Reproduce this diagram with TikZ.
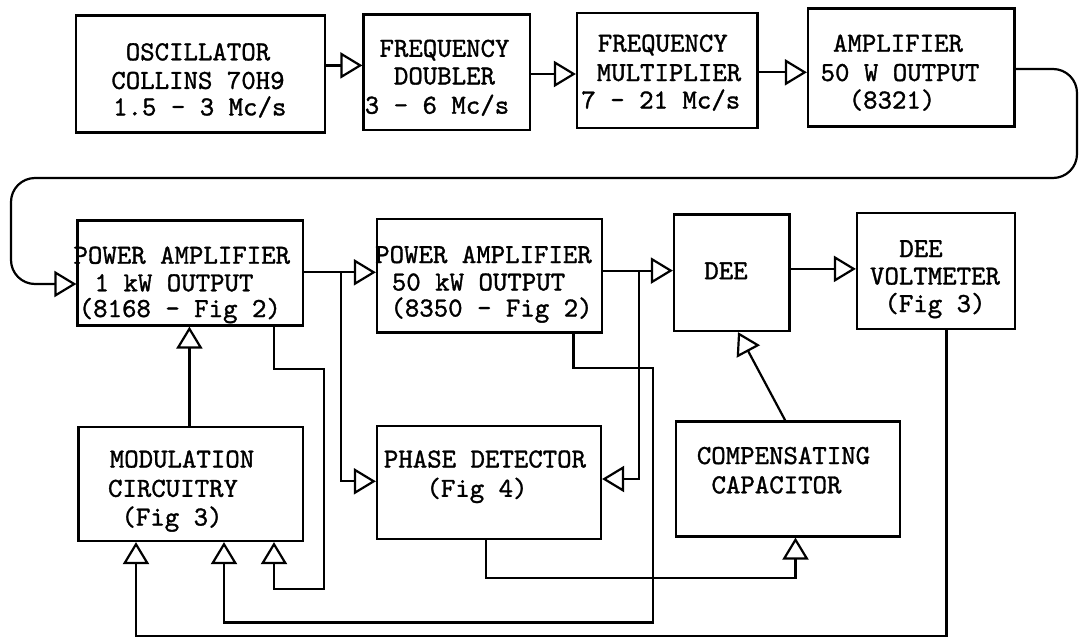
\documentclass[tikz,border=0pt]{standalone}
\usepackage{fontspec}
\newfontfamily\tw{lmmono10-regular.otf}[FakeBold=1.2]
\usetikzlibrary{arrows.meta}
\begin{document}
\begin{tikzpicture}[x=1pt,y=-1pt,
  box/.style={draw, line width=2.2pt, inner sep=0pt},
  txt/.style={font=\tw\fontsize{27.5}{29}\selectfont, inner sep=0pt, anchor=base},
  ln/.style={line width=2.2pt},
  oa/.style={line width=2.2pt, -{Triangle[open,length=22pt,width=26pt]}}]
\useasboundingbox (0,0) rectangle (1079,640);

% boxes
\node[box, minimum width=249pt,  minimum height=117pt]   (osc)  at (200.5,74)    {};
\node[box, minimum width=166.5pt,minimum height=115.5pt] (dbl)  at (446.75,72.25){};
\node[box, minimum width=180.5pt,minimum height=115pt]   (mul)  at (667.25,70.5) {};
\node[box, minimum width=206.5pt,minimum height=118pt]   (amp)  at (911.25,67.5) {};
\node[box, minimum width=225.5pt,minimum height=105pt]   (pa1)  at (190.25,273)  {};
\node[box, minimum width=225pt,  minimum height=113.5pt] (pa2)  at (489.5,275.75){};
\node[box, minimum width=115.5pt,minimum height=116.5pt] (dee)  at (731.75,272.75){};
\node[box, minimum width=158pt,  minimum height=116pt]   (vm)   at (936,271)     {};
\node[box, minimum width=224.5pt,minimum height=114pt]   (mod)  at (190.75,484)  {};
\node[box, minimum width=224pt,  minimum height=113pt]   (pd)   at (489,482.5)   {};
\node[box, minimum width=224pt,  minimum height=115pt]   (comp) at (788,479)     {};

% texts
\node[txt] (t1)  at (198,60.3)  {OSCILLATOR};
\node[txt] (t2)  at (198,88.9)  {COLLINS 70H9};
\node[txt] (t3)  at (199.8,115.4) {1.5 - 3 Mc/s};
\node[txt] (t4)  at (444.5,56.8) {FREQUENCY};
\node[txt] (t5)  at (444.5,84.4) {DOUBLER};
\node[txt] (t6)  at (437,113.7) {3 - 6 Mc/s};
\node[txt] (t7)  at (662.8,51.7) {FREQUENCY};
\node[txt] (t8)  at (669,81)    {MULTIPLIER};
\node[txt] (t9)  at (660.8,108.5) {7 - 21 Mc/s};
\node[txt] (t10) at (898,51.7)  {AMPLIFIER};
\node[txt] (t11) at (900,81)    {50 W OUTPUT};
\node[txt] (t12) at (892,108.5) {(8321)};
\node[txt] (t13) at (181.8,263.7) {POWER AMPLIFIER};
\node[txt] (t14) at (174,291.3) {1 kW OUTPUT};
\node[txt] (t15) at (179.8,317) {(8168 - Fig 2)};
\node[txt] (t16) at (483.5,263)  {POWER AMPLIFIER};
\node[txt] (t17) at (478.5,290.5) {50 kW OUTPUT};
\node[txt] (t18) at (491.5,316.5) {(8350 - Fig 2)};
\node[txt] (t19) at (726,279.2) {DEE};
\node[txt] (t20) at (921,257)   {DEE};
\node[txt] (t21) at (935,284.5) {VOLTMETER};
\node[txt] (t22) at (935,312)   {(Fig 3)};
\node[txt] (t23) at (182,467.5) {MODULATION};
\node[txt] (t24) at (173,496.8) {CIRCUITRY};
\node[txt] (t25) at (172,525.5) {(Fig 3)};
\node[txt] (t26) at (485,467.5) {PHASE DETECTOR};
\node[txt] (t27) at (477,496.8) {(Fig 4)};
\node[txt] (t28) at (783.5,464) {COMPENSATING};
\node[txt] (t29) at (776.5,493.3) {CAPACITOR};

% top row
\draw[oa] (osc.east |- 0,65.4) -- (dbl.west |- 0,65.4);
\draw[oa] (dbl.east |- 0,74) -- (mul.west |- 0,74);
\draw[oa] (mul.east |- 0,72.3) -- (amp.west |- 0,72.3);

% loop to PA1
\draw[oa, rounded corners=24pt] (amp.east |- 0,69) -- (1077,69) -- (1077,178)
   -- (11,178) -- (11,284) -- (pa1.west |- 0,284);

% junctions
\coordinate (j1) at (341,272.3);
\coordinate (j2) at (638.8,270.6);

\draw[oa] (pa1.east |- 0,272.3) -- (pa2.west |- 0,272.3);
\draw[oa] (j1) |- (pd.west |- 0,481.3);
\draw[oa] (pa2.east |- 0,270.6) -- (dee.west |- 0,270.6);
\draw[oa] (j2) |- (pd.east |- 0,479);
\draw[oa] (dee.east |- 0,268.9) -- (vm.west |- 0,268.9);

% modulation -> PA1
\draw[oa] (mod.north -| 189.4,0) -- (pa1.south -| 189.4,0);

% PA1 sample -> modulation
\draw[oa] (pa1.south -| 274,0) -- (274,368.8) -- (323.7,368.8) -- (323.7,589)
   -- (274,589) -- (mod.south -| 274,0);

% PA2 sample -> modulation
\draw[oa] (pa2.south -| 573.4,0) -- (573.4,367.7) -- (653,367.7) -- (653,622.5)
   -- (224,622.5) -- (mod.south -| 224,0);

% voltmeter -> modulation
\draw[oa] (vm.south -| 946.4,0) -- (946.4,636) -- (136,636) -- (mod.south -| 136,0);

% phase detector -> compensating capacitor
\draw[oa] (pd.south -| 486.3,0) -- (486.3,577.7) -- (795.5,577.7) -- (comp.south -| 795.5,0);

% compensating capacitor -> DEE
\draw[oa] (comp.north -| 785.2,0) -- (dee.south -| 738,0);
\end{tikzpicture}
\end{document}
